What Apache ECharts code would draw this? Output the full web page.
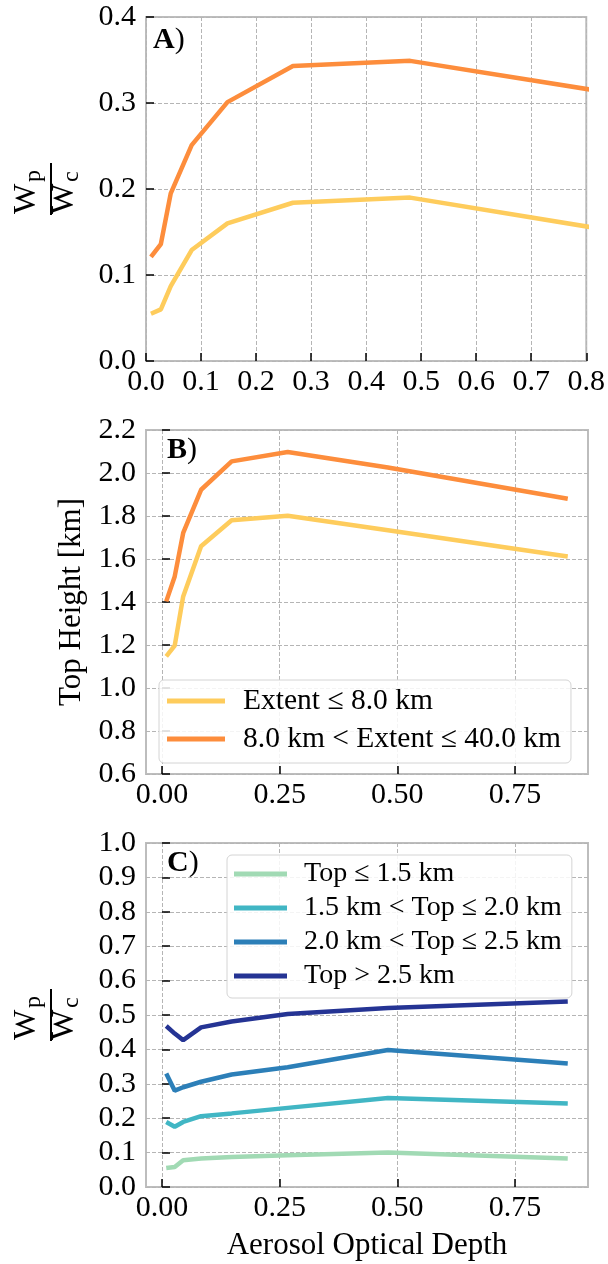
<!DOCTYPE html>
<html><head><meta charset="utf-8">
<script src="https://cdn.jsdelivr.net/npm/echarts@6/dist/echarts.min.js"></script>
<style>html,body{margin:0;padding:0;background:#fff}#chart{width:608px;height:1264px}</style>
</head><body><div id="chart"></div>
<script>
// ---------------- data ----------------
const aod = [0.009, 0.027, 0.045, 0.083, 0.148, 0.267, 0.48, 0.862];

const extentNames = ['Extent ≤ 8.0 km', '8.0 km < Extent ≤ 40.0 km'];
// Panel A: Wp/Wc by cloud extent
const ratioSmallExtent = [0.055, 0.060, 0.087, 0.129, 0.160, 0.184, 0.190, 0.150];
const ratioLargeExtent = [0.121, 0.136, 0.195, 0.251, 0.301, 0.343, 0.349, 0.310];
// Panel B: top height [km] by cloud extent
const topSmallExtent = [1.147, 1.197, 1.426, 1.659, 1.780, 1.801, 1.734, 1.612];
const topLargeExtent = [1.403, 1.519, 1.721, 1.922, 2.054, 2.098, 2.026, 1.880];

const topNames = ['Top ≤ 1.5 km', '1.5 km < Top ≤ 2.0 km', '2.0 km < Top ≤ 2.5 km', 'Top > 2.5 km'];
// Panel C: Wp/Wc by cloud top
const ratioTop1 = [0.055, 0.058, 0.078, 0.083, 0.087, 0.092, 0.100, 0.083];
const ratioTop2 = [0.189, 0.175, 0.189, 0.206, 0.214, 0.230, 0.259, 0.243];
const ratioTop3 = [0.330, 0.280, 0.290, 0.306, 0.327, 0.348, 0.398, 0.359];
const ratioTop4 = [0.468, 0.446, 0.427, 0.464, 0.481, 0.503, 0.520, 0.539];

const xTicksBC = [0, 0.25, 0.5, 0.75];

// ---------------- styling ----------------
const FONT = '"Liberation Serif", "Times New Roman", serif';
const extentColors = ['#fecc5c', '#fd8d3c'];
const topColors = ['#a1dab4', '#41b6c4', '#2c7fb8', '#253494'];

const pairs = arr => aod.map((x, i) => [x, arr[i]]);

const gridCommon = { left: 146, width: 442, height: 344, show: true, borderColor: '#bdbdbd', borderWidth: 2, backgroundColor: '#fff' };
const tickStyle = { inside: true, length: 8, lineStyle: { color: '#000', width: 1.5 } };
const splitStyle = { show: true, lineStyle: { color: '#b5b5b5', width: 1, type: [4, 2] } };
const labelStyle = (fmt, margin) => ({ fontSize: 30, fontFamily: FONT, color: '#000', margin: margin, formatter: fmt, showMinLabel: true, showMaxLabel: true });
const f1 = v => v.toFixed(1);
const f2 = v => v.toFixed(2);

function lineSeries(name, data, color, idx) {
  return { type: 'line', name: name, data: pairs(data), xAxisIndex: idx, yAxisIndex: idx,
    showSymbol: false, symbol: 'none', clip: true, lineStyle: { color: color, width: 4.5 }, itemStyle: { color: color } };
}

function frac(cy) {
  const t = (txt, x, y, size) => ({ type: 'text', x: x, y: y,
    style: { text: txt, font: size + 'px ' + FONT, fill: '#000', align: 'left', verticalAlign: 'middle', textAlign: 'left', textVerticalAlign: 'middle' } });
  return { type: 'group', x: 51, y: cy, rotation: Math.PI / 2, children: [
    t('W', -25, -24.5, 32), t('p', 7, -16.8, 24),
    { type: 'line', shape: { x1: -26, y1: 0, x2: 26, y2: 0 }, style: { stroke: '#000', lineWidth: 2 } },
    t('W', -25, 13.5, 32), t('c', 7, 21.2, 24)
  ] };
}
function panelLabel(letter, left, top) {
  return { type: 'text', left: left, top: top, z: 100,
    style: { text: '{b|' + letter + '}{r|)}', font: '30px ' + FONT, fill: '#000',
      rich: { b: { fontWeight: 'bold', fontSize: 30, fontFamily: FONT, fill: '#000' }, r: { fontSize: 30, fontFamily: FONT, fill: '#000' } } } };
}

const legendCommon = { orient: 'vertical', icon: 'rect', backgroundColor: 'rgba(255,255,255,0.85)', borderColor: '#d4d4d4', borderWidth: 1, borderRadius: 5,
  selectedMode: false, z: 50 };

const option = {
  animation: false,
  backgroundColor: '#fff',
  grid: [
    Object.assign({ top: 17 }, gridCommon),
    Object.assign({ top: 430 }, gridCommon),
    Object.assign({ top: 843 }, gridCommon)
  ],
  xAxis: [
    { type: 'value', gridIndex: 0, min: 0, max: 0.8, interval: 0.1, axisLine: { show: false }, axisTick: tickStyle, splitLine: splitStyle, axisLabel: labelStyle(f1, 6) },
    { type: 'value', gridIndex: 1, min: -0.034, max: 0.905, axisLine: { show: false },
      axisTick: Object.assign({ customValues: xTicksBC }, tickStyle), splitLine: splitStyle,
      axisLabel: Object.assign({ customValues: xTicksBC }, labelStyle(f2, 6)) },
    { type: 'value', gridIndex: 2, min: -0.034, max: 0.905, axisLine: { show: false },
      axisTick: Object.assign({ customValues: xTicksBC }, tickStyle), splitLine: splitStyle,
      axisLabel: Object.assign({ customValues: xTicksBC }, labelStyle(f2, 6)),
      name: 'Aerosol Optical Depth', nameLocation: 'middle', nameGap: 43,
      nameTextStyle: { fontSize: 31, fontFamily: FONT, color: '#000' } }
  ],
  yAxis: [
    { type: 'value', gridIndex: 0, min: 0, max: 0.4, interval: 0.1, axisLine: { show: false }, axisTick: tickStyle, splitLine: splitStyle, axisLabel: labelStyle(f1, 10) },
    { type: 'value', gridIndex: 1, min: 0.6, max: 2.2, interval: 0.2, axisLine: { show: false }, axisTick: tickStyle, splitLine: splitStyle, axisLabel: labelStyle(f1, 10),
      name: 'Top Height [km]', nameLocation: 'middle', nameRotate: 90, nameGap: 56,
      nameTextStyle: { fontSize: 31, fontFamily: FONT, color: '#000' } },
    { type: 'value', gridIndex: 2, min: 0, max: 1.0, interval: 0.1, axisLine: { show: false }, axisTick: tickStyle, splitLine: splitStyle, axisLabel: labelStyle(f1, 10) }
  ],
  legend: [
    Object.assign({ data: extentNames, left: 159, top: 680, itemWidth: 58, itemHeight: 5, itemGap: 8, padding: [6, 10, 9, 8],
      textStyle: { fontSize: 29.5, fontFamily: FONT, color: '#000', padding: [0, 0, 0, 13] } }, legendCommon),
    Object.assign({ data: topNames, left: 227, top: 855, itemWidth: 53, itemHeight: 5, itemGap: 6, padding: [5, 10, 8, 7],
      textStyle: { fontSize: 28, fontFamily: FONT, color: '#000', padding: [0, 0, 0, 12] } }, legendCommon)
  ],
  graphic: [
    frac(189), frac(1015),
    panelLabel('A', 153, 25), panelLabel('B', 167, 435), panelLabel('C', 167, 848)
  ],
  series: [
    lineSeries(extentNames[0], ratioSmallExtent, extentColors[0], 0),
    lineSeries(extentNames[1], ratioLargeExtent, extentColors[1], 0),
    lineSeries(extentNames[0], topSmallExtent, extentColors[0], 1),
    lineSeries(extentNames[1], topLargeExtent, extentColors[1], 1),
    lineSeries(topNames[0], ratioTop1, topColors[0], 2),
    lineSeries(topNames[1], ratioTop2, topColors[1], 2),
    lineSeries(topNames[2], ratioTop3, topColors[2], 2),
    lineSeries(topNames[3], ratioTop4, topColors[3], 2)
  ]
};

const chart = echarts.init(document.getElementById('chart'), null, { renderer: 'canvas' });
chart.setOption(option);
</script>
</body></html>
